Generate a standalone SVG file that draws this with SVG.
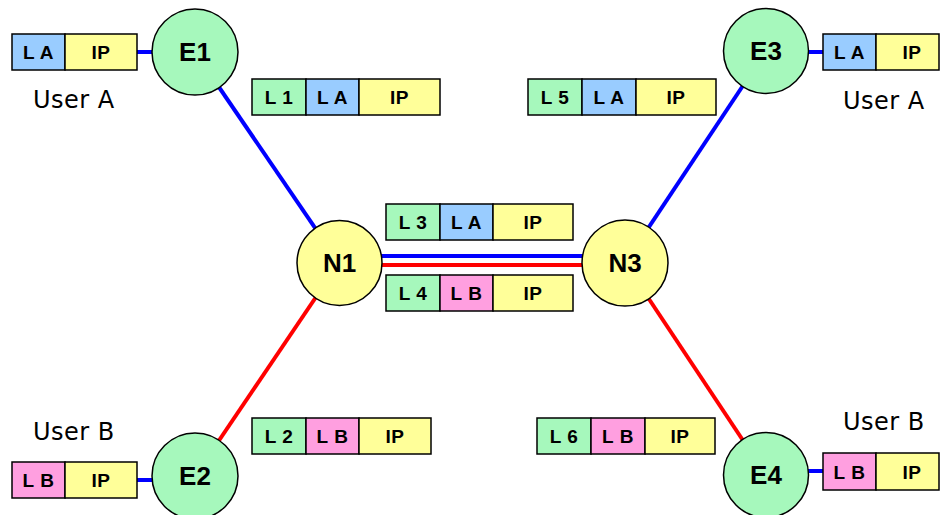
<svg xmlns="http://www.w3.org/2000/svg" width="940" height="515" viewBox="0 0 940 515">
<style>
.b{stroke:#000;stroke-width:1.5}
.g{fill:#a6f8bc}.lb{fill:#99ccff}.y{fill:#ffff99}.p{fill:#ff9fe0}
.t{font-family:"Liberation Sans",Arial,sans-serif;font-weight:bold;font-size:19px;letter-spacing:0.5px;text-anchor:middle;fill:#000}
.c{font-family:"Liberation Sans",Arial,sans-serif;font-weight:bold;font-size:26px;text-anchor:middle;fill:#000}
.u{font-family:"DejaVu Sans",sans-serif;font-size:24px;letter-spacing:0.5px;fill:#000}
.bl{stroke:#0000ff;stroke-width:4;fill:none}
.rd{stroke:#ff0000;stroke-width:4;fill:none}
</style>
<rect width="940" height="515" fill="#fff"/>
<g id="connectors">
<line class="bl" x1="195" y1="52" x2="339" y2="263"/>
<line class="rd" x1="195" y1="476" x2="339" y2="263"/>
<line class="bl" x1="766" y1="51" x2="625" y2="263"/>
<line class="rd" x1="766" y1="475" x2="625" y2="263"/>
<line class="bl" x1="380" y1="256" x2="586" y2="256"/>
<line class="rd" x1="380" y1="265" x2="586" y2="265"/>
<line class="bl" x1="137" y1="52" x2="155" y2="52"/>
<line class="bl" x1="137" y1="480" x2="155" y2="480"/>
<line class="bl" x1="805" y1="52" x2="823" y2="52"/>
<line class="bl" x1="805" y1="471" x2="823" y2="471"/>
</g>
<g id="E1"><circle class="b g" cx="195" cy="52" r="43"/><text class="c" x="195" y="61">E1</text></g>
<g id="E2"><circle class="b g" cx="195" cy="476" r="43"/><text class="c" x="195" y="485">E2</text></g>
<g id="E3"><circle class="b g" cx="766" cy="51" r="42.5"/><text class="c" x="766" y="60">E3</text></g>
<g id="E4"><circle class="b g" cx="766" cy="475" r="42.5"/><text class="c" x="766" y="484">E4</text></g>
<g id="N1"><circle class="b y" cx="339.5" cy="263" r="42.5"/><text class="c" x="339.5" y="272">N1</text></g>
<g id="N3"><circle class="b y" cx="625" cy="263" r="43"/><text class="c" x="625" y="272">N3</text></g>
<g id="pktA1">
<rect class="b lb" x="12" y="34" width="53" height="36"/><text class="t" x="38.5" y="59">L A</text>
<rect class="b y" x="65" y="34" width="72" height="36"/><text class="t" x="101" y="59">IP</text>
</g>
<g id="userA1"><text class="u" x="33" y="108">User A</text></g>
<g id="pktB1">
<rect class="b p" x="12" y="462" width="53" height="36"/><text class="t" x="38.5" y="487">L B</text>
<rect class="b y" x="65" y="462" width="72" height="36"/><text class="t" x="101" y="487">IP</text>
</g>
<g id="userB1"><text class="u" x="33" y="440">User B</text></g>
<g id="pktA3">
<rect class="b lb" x="823" y="34" width="53" height="36"/><text class="t" x="849.5" y="59">L A</text>
<rect class="b y" x="876" y="34" width="63" height="36"/><text class="t" x="912" y="59">IP</text>
</g>
<g id="userA3"><text class="u" x="843" y="109">User A</text></g>
<g id="pktB4">
<rect class="b p" x="823" y="453" width="53" height="37"/><text class="t" x="849.5" y="479">L B</text>
<rect class="b y" x="876" y="453" width="63" height="37"/><text class="t" x="912" y="479">IP</text>
</g>
<g id="userB4"><text class="u" x="843" y="430">User B</text></g>
<g id="pktL1">
<rect class="b g" x="252" y="79" width="54" height="36"/><text class="t" x="279" y="104">L 1</text>
<rect class="b lb" x="306" y="79" width="53" height="36"/><text class="t" x="332.5" y="104">L A</text>
<rect class="b y" x="359" y="79" width="81" height="36"/><text class="t" x="399.5" y="104">IP</text>
</g>
<g id="pktL5">
<rect class="b g" x="528" y="79" width="54" height="36"/><text class="t" x="555" y="104">L 5</text>
<rect class="b lb" x="582" y="79" width="54" height="36"/><text class="t" x="609" y="104">L A</text>
<rect class="b y" x="636" y="79" width="80" height="36"/><text class="t" x="676" y="104">IP</text>
</g>
<g id="pktL3">
<rect class="b g" x="386" y="204" width="54" height="36"/><text class="t" x="413" y="229">L 3</text>
<rect class="b lb" x="440" y="204" width="53" height="36"/><text class="t" x="466.5" y="229">L A</text>
<rect class="b y" x="493" y="204" width="80" height="36"/><text class="t" x="533" y="229">IP</text>
</g>
<g id="pktL4">
<rect class="b g" x="386" y="275" width="54" height="36"/><text class="t" x="413" y="300">L 4</text>
<rect class="b p" x="440" y="275" width="53" height="36"/><text class="t" x="466.5" y="300">L B</text>
<rect class="b y" x="493" y="275" width="80" height="36"/><text class="t" x="533" y="300">IP</text>
</g>
<g id="pktL2">
<rect class="b g" x="252" y="418" width="54" height="36"/><text class="t" x="279" y="443">L 2</text>
<rect class="b p" x="306" y="418" width="53" height="36"/><text class="t" x="332.5" y="443">L B</text>
<rect class="b y" x="359" y="418" width="72" height="36"/><text class="t" x="395" y="443">IP</text>
</g>
<g id="pktL6">
<rect class="b g" x="537" y="418" width="54" height="36"/><text class="t" x="564" y="443">L 6</text>
<rect class="b p" x="591" y="418" width="54" height="36"/><text class="t" x="618" y="443">L B</text>
<rect class="b y" x="645" y="418" width="70" height="36"/><text class="t" x="680" y="443">IP</text>
</g>
</svg>
